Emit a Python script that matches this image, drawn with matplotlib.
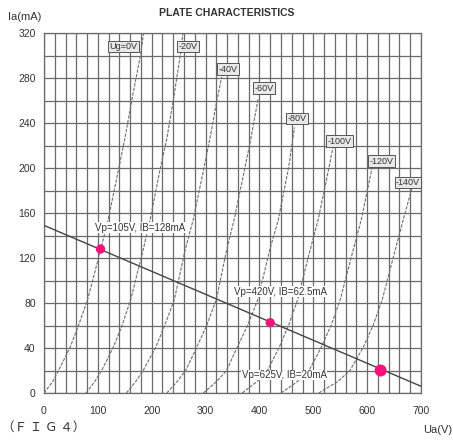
import matplotlib
matplotlib.use("Agg")
import matplotlib.pyplot as plt

plt.rcParams['font.family'] = ['Liberation Sans', 'DejaVu Sans']

# plate current levels (mA) and plate voltage (V) for each grid bias curve
i_levels = [0, 10, 20, 40, 60, 83, 127, 154, 200, 226, 260, 300, 320]
curve_v = {
    "Ug=0V": [0, 16, 27, 48, 64, 81, 105, 119, 139, 150, 163, 179, 185],
    "-20V": [78, 94, 107, 128, 145, 161, 184, 197, 216, 228, 240, 253, 258],
    "-40V": [153, 170, 184, 207, 224, 242, 262, 277, 297, 308, 321],
    "-60V": [228, 247, 263, 283, 302, 320, 339, 353, 373, 384, 397],
    "-80V": [296, 320, 339, 358, 378, 397, 419, 435, 454],
    "-100V": [368, 395, 415, 436, 454, 471, 494, 509, 529],
    "-120V": [440, 470, 492, 514, 533, 550, 574, 589, 609],
    "-140V": [510, 545, 568, 592, 611, 628, 652, 667],
}
# last point of the shorter curves (V, mA)
curve_end = {
    "-40V": (330, 281),
    "-60V": (398, 262),
    "-80V": (465, 236),
    "-100V": (537, 220),
    "-120V": (611, 204),
    "-140V": (683, 182),
}
# curve label positions (V, mA)
label_pos = {
    "Ug=0V": (148, 308),
    "-20V": (267, 308),
    "-40V": (342, 288),
    "-60V": (408, 271),
    "-80V": (470, 244),
    "-100V": (548, 224),
    "-120V": (626, 206),
    "-140V": (676, 187),
}

# load line and operating points
load_v = [0, 700]
load_i = [149, 6]
op_v = [105, 420, 625]
op_i = [128, 62.5, 20]
op_text = ["Vp=105V, IB=128mA", "Vp=420V, IB=62.5mA", "Vp=625V, IB=20mA"]
op_text_pos = [(95, 147), (352, 90), (367, 16)]
op_size = [45, 45, 75]

x_ticks = [0, 100, 200, 300, 400, 500, 600, 700]
y_ticks = [0, 40, 80, 120, 160, 200, 240, 280, 320]

fig = plt.figure(figsize=(4.53, 4.40), dpi=100)
ax = fig.add_axes([0.0971, 0.1068, 0.8323, 0.8182])

ax.set_xlim(0, 700)
ax.set_ylim(0, 320)

# 20 V / 20 mA grid
grid_c = '#6a6a6a'
for v in range(0, 701, 20):
    ax.axvline(v, color=grid_c, lw=0.9, zorder=1)
for i in range(0, 321, 20):
    ax.axhline(i, color=grid_c, lw=0.9, zorder=1)
for s in ax.spines.values():
    s.set_color(grid_c)
    s.set_linewidth(0.9)

for name, vs in curve_v.items():
    ii = i_levels[:len(vs)]
    vv = list(vs)
    if name in curve_end:
        vv = vv + [curve_end[name][0]]
        ii = ii + [curve_end[name][1]]
    ax.plot(vv, ii, color='#6e6e6e', lw=0.8, ls=(0, (3, 1.2)), zorder=2)

for name, (lv, li) in label_pos.items():
    ax.text(lv, li, name, fontsize=6.5, ha='center', va='center', color='#333333',
            zorder=4, bbox=dict(boxstyle='square,pad=0.15', fc='#e8e8e8',
                                ec='#555555', lw=0.7))

ax.plot(load_v, load_i, color='#444444', lw=1.0, zorder=3)
ax.scatter(op_v, op_i, s=op_size, color='#f5127a', zorder=5, edgecolors='none')
for txt, (tv, ti) in zip(op_text, op_text_pos):
    ax.text(tv, ti, txt, fontsize=7, ha='left', va='center', color='#333333',
            zorder=4, bbox=dict(boxstyle='square,pad=0.05', fc='white', ec='none'))

ax.set_xticks(x_ticks)
ax.set_yticks(y_ticks)
ax.tick_params(axis='x', length=0, labelsize=7.5, colors='#333333', pad=9)
ax.tick_params(axis='y', length=0, labelsize=7.5, colors='#333333', pad=6)

fig.text(0.5, 0.970, "PLATE CHARACTERISTICS", ha='center', va='center',
         fontsize=7.5, fontweight='bold', color='#333333')
fig.text(0.018, 0.962, "Ia(mA)", ha='left', va='center', fontsize=8, color='#333333')
fig.text(0.998, 0.023, "Ua(V)", ha='right', va='center', fontsize=8, color='#333333')
fig.text(0.004, 0.030, "（Ｆ Ｉ Ｇ ４）", ha='left', va='center', fontsize=9,
         color='#333333', family=['Noto Sans CJK JP', 'DejaVu Sans'])

fig.savefig("out.png", dpi=100)
